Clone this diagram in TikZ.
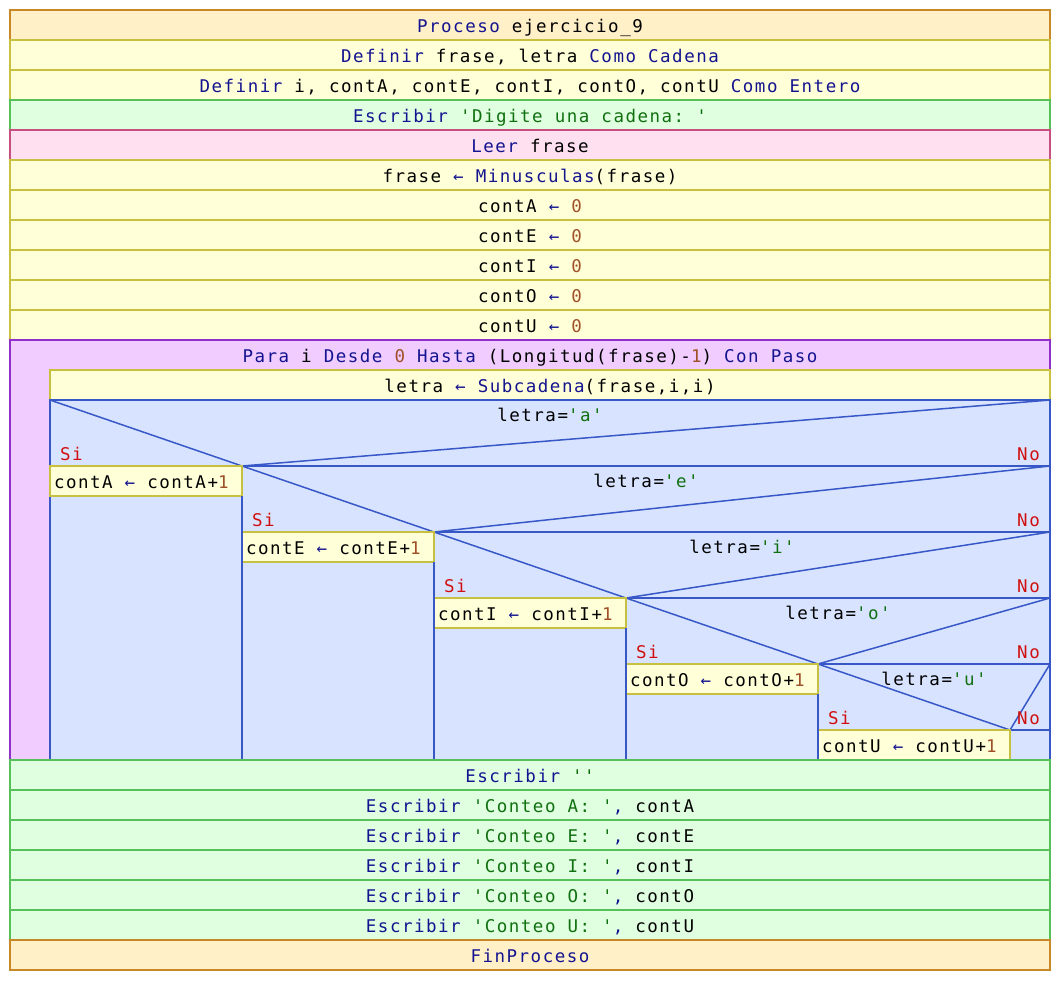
\documentclass[tikz,border=0pt]{standalone}
\usepackage{fontspec}
\setmonofont[LetterSpace=8.6]{DejaVu Sans Mono}
\usepackage{tikz}
\usepackage{xcolor}
\usetikzlibrary{positioning}

\definecolor{procfill}{HTML}{FFF0C8}
\definecolor{procline}{HTML}{C88828}
\definecolor{asigfill}{HTML}{FFFFD8}
\definecolor{asigline}{HTML}{C8C040}
\definecolor{escrfill}{HTML}{E0FFE0}
\definecolor{escrline}{HTML}{58C058}
\definecolor{leerfill}{HTML}{FFE0F0}
\definecolor{leerline}{HTML}{C85080}
\definecolor{parafill}{HTML}{F0CCFF}
\definecolor{paraline}{HTML}{9030C8}
\definecolor{condfill}{HTML}{D8E4FF}
\definecolor{condline}{HTML}{3858C8}
\definecolor{kwcol}{HTML}{141490}
\definecolor{cadcol}{HTML}{107010}
\definecolor{nrocol}{HTML}{A05028}
\definecolor{sinocol}{HTML}{D01010}

\newcommand{\kw}[1]{\textcolor{kwcol}{#1}}
\newcommand{\cad}[1]{\textcolor{cadcol}{#1}}
\newcommand{\nro}[1]{\textcolor{nrocol}{#1}}
\newcommand{\asg}{\textcolor{kwcol}{←}}

\tikzstyle{fila} = [rectangle, minimum width=1040pt, minimum height=30pt, inner sep=0pt, outer sep=0pt, text centered, text height=16pt, text depth=2pt, line width=1.5pt]
\tikzstyle{proceso} = [fila, draw=procline, fill=procfill]
\tikzstyle{asig} = [fila, draw=asigline, fill=asigfill]
\tikzstyle{escr} = [fila, draw=escrline, fill=escrfill]
\tikzstyle{leer} = [fila, draw=leerline, fill=leerfill]
\tikzstyle{parabox} = [fila, draw=paraline, fill=parafill, minimum height=420pt]
\tikzstyle{condbox} = [fila, draw=condline, fill=condfill, minimum width=1000pt, minimum height=360pt]
\tikzstyle{sibox} = [rectangle, draw=asigline, fill=asigfill, line width=1.5pt, anchor=north west, minimum width=192pt, minimum height=30pt, text height=16pt, text depth=2pt, inner sep=0pt, outer sep=0pt]
\tikzstyle{rama} = [condline, line width=1.5pt]
\tikzstyle{sino} = [text=sinocol, inner sep=0pt]

% texto alineado a la izquierda dentro de la caja del Si
\newcommand{\sitxt}[1]{\makebox[184pt][l]{#1}}

\begin{document}
\begin{tikzpicture}[node distance=0pt, x=1pt, y=-1pt, font=\ttfamily\fontsize{17.5pt}{20pt}\selectfont]

        \useasboundingbox (0,0) rectangle (1060,980);

        \node (inicio) [proceso, anchor=north west] at (10,10) {\kw{Proceso} ejercicio\_9};
        \node (defCad) [asig, below=of inicio] {\kw{Definir} frase, letra \kw{Como Cadena}};
        \node (defEnt) [asig, below=of defCad] {\kw{Definir} i, contA, contE, contI, contO, contU \kw{Como Entero}};
        \node (pedir) [escr, below=of defEnt] {\kw{Escribir} \cad{'Digite una cadena: '}};
        \node (leerFrase) [leer, below=of pedir] {\kw{Leer} frase};
        \node (minus) [asig, below=of leerFrase] {frase \asg{} \kw{Minusculas}(frase)};
        \node (iniA) [asig, below=of minus] {contA \asg{} \nro{0}};
        \node (iniE) [asig, below=of iniA] {contE \asg{} \nro{0}};
        \node (iniI) [asig, below=of iniE] {contI \asg{} \nro{0}};
        \node (iniO) [asig, below=of iniI] {contO \asg{} \nro{0}};
        \node (iniU) [asig, below=of iniO] {contU \asg{} \nro{0}};

        \node (para) [parabox, below=of iniU] {};
        \node (paraTxt) [text height=22pt, text depth=0pt, inner sep=0pt, anchor=north] at (para.north) {\kw{Para} i \kw{Desde} \nro{0} \kw{Hasta} (Longitud(frase)-\nro{1}) \kw{Con Paso}};
        \node (subcad) [asig, minimum width=1000pt, anchor=north east] at ([yshift=-30pt]para.north east) {letra \asg{} \kw{Subcadena}(frase,i,i)};
        \node (cond) [condbox, below=of subcad] {};

        \coordinate (pA) at (50,400);
        \coordinate (vA) at (242,466);
        \coordinate (vE) at (434,532);
        \coordinate (vI) at (626,598);
        \coordinate (vO) at (818,664);
        \coordinate (vU) at (1010,730);
        \coordinate (rA) at (1050,400);
        \coordinate (rE) at (1050,466);
        \coordinate (rI) at (1050,532);
        \coordinate (rO) at (1050,598);
        \coordinate (rU) at (1050,664);
        \coordinate (rN) at (1050,730);

        \draw [rama] (pA) -- (vA) -- (vE) -- (vI) -- (vO) -- (vU);
        \draw [rama] (vA) -- (rA);
        \draw [rama] (vE) -- (rE);
        \draw [rama] (vI) -- (rI);
        \draw [rama] (vO) -- (rO);
        \draw [rama] (vU) -- (rU);
        \draw [rama] (vA) -- (rE);
        \draw [rama] (vE) -- (rI);
        \draw [rama] (vI) -- (rO);
        \draw [rama] (vO) -- (rU);
        \draw [rama] (vU) -- (rN);

        \node (sumaA) [sibox] at (vA -| pA) {\sitxt{contA \asg{} contA+\nro{1}}};
        \node (sumaE) [sibox] at (vE -| vA) {\sitxt{contE \asg{} contE+\nro{1}}};
        \node (sumaI) [sibox] at (vI -| vE) {\sitxt{contI \asg{} contI+\nro{1}}};
        \node (sumaO) [sibox] at (vO -| vI) {\sitxt{contO \asg{} contO+\nro{1}}};
        \node (sumaU) [sibox] at (vU -| vO) {\sitxt{contU \asg{} contU+\nro{1}}};

        \draw [rama] (sumaA.south east) -- (sumaA.south east |- cond.south);
        \draw [rama] (sumaE.south east) -- (sumaE.south east |- cond.south);
        \draw [rama] (sumaI.south east) -- (sumaI.south east |- cond.south);
        \draw [rama] (sumaO.south east) -- (sumaO.south east |- cond.south);

        \node (letraA) at (550,415) {letra=\cad{'a'}};
        \node (letraE) at (646,481) {letra=\cad{'e'}};
        \node (letraI) at (742,547) {letra=\cad{'i'}};
        \node (letraO) at (838,613) {letra=\cad{'o'}};
        \node (letraU) at (934,679) {letra=\cad{'u'}};

        \node (siA) [sino, anchor=west] at (60,454) {Si};
        \node (siE) [sino, anchor=west] at (252,520) {Si};
        \node (siI) [sino, anchor=west] at (444,586) {Si};
        \node (siO) [sino, anchor=west] at (636,652) {Si};
        \node (siU) [sino, anchor=west] at (828,718) {Si};
        \node (noA) [sino, anchor=east] at (1040,454) {No};
        \node (noE) [sino, anchor=east] at (1040,520) {No};
        \node (noI) [sino, anchor=east] at (1040,586) {No};
        \node (noO) [sino, anchor=east] at (1040,652) {No};
        \node (noU) [sino, anchor=east] at (1040,718) {No};

        \node (vacio) [escr, below=of para] {\kw{Escribir} \cad{''}};
        \node (verA) [escr, below=of vacio] {\kw{Escribir} \cad{'Conteo A: '}\kw{,} contA};
        \node (verE) [escr, below=of verA] {\kw{Escribir} \cad{'Conteo E: '}\kw{,} contE};
        \node (verI) [escr, below=of verE] {\kw{Escribir} \cad{'Conteo I: '}\kw{,} contI};
        \node (verO) [escr, below=of verI] {\kw{Escribir} \cad{'Conteo O: '}\kw{,} contO};
        \node (verU) [escr, below=of verO] {\kw{Escribir} \cad{'Conteo U: '}\kw{,} contU};
        \node (fin) [proceso, below=of verU] {\kw{FinProceso}};

    \end{tikzpicture}
\end{document}
